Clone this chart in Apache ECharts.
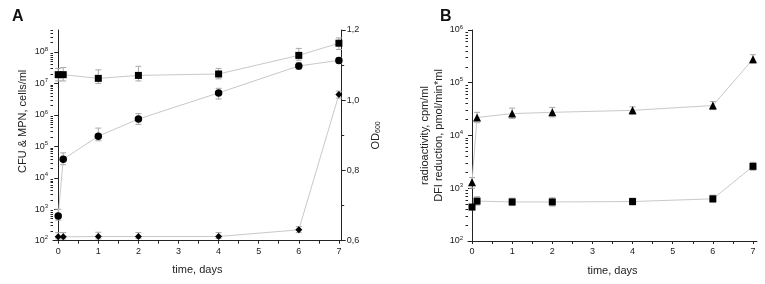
<!DOCTYPE html>
<html><head><meta charset="utf-8">
<script src="https://cdn.jsdelivr.net/npm/echarts@6/dist/echarts.min.js"></script>
<style>html,body{margin:0;padding:0;background:#fff}#c{width:765px;height:284px}</style>
</head><body><div id="c"></div>
<script>
// ---- Data ----
const daysA = [0, 0.125, 1, 2, 4, 6, 7];
const cfu = [1.9e7, 1.9e7, 1.45e7, 1.8e7, 2.0e7, 7.8e7, 1.9e8];
const cfuLo = [1.2e7, 1.2e7, 1.0e7, 1.2e7, 1.4e7, 5.5e7, 1.2e8];
const cfuHi = [3.0e7, 3.2e7, 2.7e7, 3.5e7, 3.0e7, 1.3e8, 2.8e8];
const mpn = [6.1e2, 3.9e4, 2.1e5, 7.4e5, 5.0e6, 3.6e7, 5.4e7];
const mpnLo = [4.5e2, 2.6e4, 1.5e5, 5.0e5, 3.2e6, 2.8e7, 4.4e7];
const mpnHi = [1.0e3, 6.2e4, 3.8e5, 1.1e6, 7.0e6, 4.6e7, 6.6e7];
const od = [0.611, 0.611, 0.612, 0.612, 0.612, 0.631, 1.016];
const odLo = [0.605, 0.605, 0.605, 0.606, 0.606, 0.623, 1.006];
const odHi = [0.623, 0.623, 0.624, 0.623, 0.623, 0.640, 1.026];

const daysB = [0, 0.125, 1, 2, 4, 6, 7];
const radio = [1.3e3, 2.2e4, 2.6e4, 2.75e4, 3.0e4, 3.7e4, 2.8e5];
const radioLo = [1.0e3, 1.75e4, 2.1e4, 2.25e4, 2.5e4, 3.1e4, 2.35e5];
const radioHi = [1.6e3, 2.75e4, 3.3e4, 3.4e4, 3.5e4, 4.4e4, 3.4e5];
const dfi = [4.4e2, 5.7e2, 5.5e2, 5.5e2, 5.6e2, 6.3e2, 2.6e3];
const dfiLo = [3.9e2, 4.8e2, 4.7e2, 4.6e2, 4.8e2, 5.4e2, 2.2e3];
const dfiHi = [4.9e2, 6.9e2, 6.5e2, 6.6e2, 6.5e2, 7.4e2, 3.1e3];

const xTicks = [0, 1, 2, 3, 4, 5, 6, 7];
const xAllTicks = [0, 0.5, 1, 1.5, 2, 2.5, 3, 3.5, 4, 4.5, 5, 5.5, 6, 6.5, 7];
const logTicksA = [1e2, 1e3, 1e4, 1e5, 1e6, 1e7, 1e8];
const logTicksB = [1e2, 1e3, 1e4, 1e5, 1e6];

// ---- helpers ----
function logMinor(ticks, maxV) {
  const out = [];
  ticks.forEach(t => { for (let k = 2; k <= 9; k++) { const v = t * k; if (v <= maxV) out.push(v); } });
  return out;
}
const zip = (xs, ys) => xs.map((x, i) => [x, ys[i]]);
const zip3 = (xs, a, b) => xs.map((x, i) => [x, a[i], b[i]]);

const axisColor = '#222';
const lineColor = '#c9c9c9';
const errColor = '#a8a8a8';
const font = 'Liberation Sans, Arial, sans-serif';

function errRender(params, api) {
  const x = api.value(0), lo = api.value(1), hi = api.value(2);
  const p1 = api.coord([x, lo]), p2 = api.coord([x, hi]);
  const w = 3;
  const st = { stroke: errColor, lineWidth: 1 };
  return { type: 'group', children: [
    { type: 'line', shape: { x1: p1[0], y1: p1[1], x2: p2[0], y2: p2[1] }, style: st },
    { type: 'line', shape: { x1: p1[0] - w, y1: p1[1], x2: p1[0] + w, y2: p1[1] }, style: st },
    { type: 'line', shape: { x1: p2[0] - w, y1: p2[1], x2: p2[0] + w, y2: p2[1] }, style: st }
  ]};
}

const supRich = {
  b: { fontSize: 9, color: axisColor, fontFamily: font },
  s: { fontSize: 6, color: axisColor, fontFamily: font, padding: [0, 0, 6, 0] }
};
function logFmt(v) { const e = Math.round(Math.log10(v)); return '{b|10}{s|' + e + '}'; }

function xAxis(grid, min, max) {
  return {
    type: 'value', gridIndex: grid, min: min, max: max, position: 'bottom',
    name: 'time, days', nameLocation: 'middle', nameGap: 24,
    nameTextStyle: { fontSize: 11, color: axisColor, fontFamily: font },
    axisLine: { lineStyle: { color: axisColor, width: 1 } },
    axisTick: { customValues: xAllTicks, length: 3, lineStyle: { color: axisColor } },
    axisLabel: { customValues: xTicks, fontSize: 9, color: axisColor, fontFamily: font, margin: 6 },
    splitLine: { show: false }
  };
}

const option = {
  animation: false,
  backgroundColor: '#fff',
  title: [
    { text: 'A', left: 7, top: 4, textStyle: { fontSize: 16, fontWeight: 'bold', color: '#111', fontFamily: font } },
    { text: 'B', left: 435, top: 4, textStyle: { fontSize: 16, fontWeight: 'bold', color: '#111', fontFamily: font } }
  ],
  grid: [
    { left: 53, top: 30, width: 288.7, height: 210.7 },
    { left: 468, top: 30, width: 289, height: 211 }
  ],
  xAxis: [xAxis(0, -0.13, 7.07), xAxis(1, -0.1, 7.1)],
  yAxis: [
    { // 0: A log left
      type: 'log', logBase: 10, gridIndex: 0, min: 1e2, max: 5e8, position: 'left',
      name: 'CFU & MPN, cells/ml', nameLocation: 'middle', nameGap: 25, nameRotate: 90,
      nameTextStyle: { fontSize: 11, color: axisColor, fontFamily: font, padding: [0, 0, 0, 28] },
      axisLine: { show: true, lineStyle: { color: axisColor, width: 1 } },
      axisTick: { customValues: logTicksA, length: 4, lineStyle: { color: axisColor } },
      axisLabel: { customValues: logTicksA, formatter: logFmt, rich: supRich, margin: 5 },
      splitLine: { show: false }
    },
    { // 1: A log minor ticks
      type: 'log', logBase: 10, gridIndex: 0, min: 1e2, max: 5e8, position: 'left', offset: 0,
      axisLine: { show: false },
      axisTick: { customValues: logMinor(logTicksA, 5e8), length: 2.5, lineStyle: { color: axisColor } },
      axisLabel: { show: false }, splitLine: { show: false }
    },
    { // 2: A OD right
      type: 'value', gridIndex: 0, min: 0.6, max: 1.2, interval: 0.2, position: 'right',
      name: '{n|OD}{sub|600}', nameLocation: 'middle', nameGap: 28, nameRotate: 90,
      nameTextStyle: { rich: {
        n: { fontSize: 11, color: axisColor, fontFamily: font },
        sub: { fontSize: 7, color: axisColor, fontFamily: font, padding: [5, 0, 0, 0] } } },
      axisLine: { show: true, lineStyle: { color: axisColor, width: 1 } },
      axisTick: { length: 4, lineStyle: { color: axisColor } },
      minorTick: { show: true, splitNumber: 2, length: 2.5, lineStyle: { color: axisColor } },
      axisLabel: { fontSize: 9, color: axisColor, fontFamily: font, margin: 5,
        formatter: v => v.toFixed(1).replace('.', ',') },
      splitLine: { show: false }, minorSplitLine: { show: false }
    },
    { // 3: B log left
      type: 'log', logBase: 10, gridIndex: 1, min: 1e2, max: 1e6, position: 'left',
      name: 'radioactivity, cpm/ml\nDFI reduction, pmol/min*ml', nameLocation: 'middle', nameGap: 22, nameRotate: 90,
      nameTextStyle: { fontSize: 11, lineHeight: 14, color: axisColor, fontFamily: font, align: 'center' },
      axisLine: { show: true, lineStyle: { color: axisColor, width: 1 } },
      axisTick: { customValues: logTicksB, length: 4, lineStyle: { color: axisColor } },
      axisLabel: { customValues: logTicksB, formatter: logFmt, rich: supRich, margin: 5 },
      splitLine: { show: false }
    },
    { // 4: B log minor
      type: 'log', logBase: 10, gridIndex: 1, min: 1e2, max: 1e6, position: 'left', offset: 0,
      axisLine: { show: false },
      axisTick: { customValues: logMinor(logTicksB, 1e6), length: 2.5, lineStyle: { color: axisColor } },
      axisLabel: { show: false }, splitLine: { show: false }
    }
  ],
  series: [
    // error bars
    { type: 'custom', xAxisIndex: 0, yAxisIndex: 0, data: zip3(daysA, cfuLo, cfuHi), renderItem: errRender, z: 1, clip: false },
    { type: 'custom', xAxisIndex: 0, yAxisIndex: 0, data: zip3(daysA, mpnLo, mpnHi), renderItem: errRender, z: 1, clip: false },
    { type: 'custom', xAxisIndex: 0, yAxisIndex: 2, data: zip3(daysA, odLo, odHi), renderItem: errRender, z: 1, clip: false },
    { type: 'custom', xAxisIndex: 1, yAxisIndex: 3, data: zip3(daysB, radioLo, radioHi), renderItem: errRender, z: 1, clip: false },
    { type: 'custom', xAxisIndex: 1, yAxisIndex: 3, data: zip3(daysB, dfiLo, dfiHi), renderItem: errRender, z: 1, clip: false },
    // lines + markers
    { name: 'CFU', type: 'line', xAxisIndex: 0, yAxisIndex: 0, data: zip(daysA, cfu), symbol: 'rect', symbolSize: 7,
      lineStyle: { color: lineColor, width: 1 }, itemStyle: { color: '#000' }, z: 3 },
    { name: 'MPN', type: 'line', xAxisIndex: 0, yAxisIndex: 0, data: zip(daysA, mpn), symbol: 'circle', symbolSize: 7.5,
      lineStyle: { color: lineColor, width: 1 }, itemStyle: { color: '#000' }, z: 3 },
    { name: 'OD', type: 'line', xAxisIndex: 0, yAxisIndex: 2, data: zip(daysA, od), symbol: 'diamond', symbolSize: 7,
      lineStyle: { color: lineColor, width: 1 }, itemStyle: { color: '#000' }, z: 3 },
    { name: 'radio', type: 'line', xAxisIndex: 1, yAxisIndex: 3, data: zip(daysB, radio), symbol: 'triangle', symbolSize: 8,
      lineStyle: { color: lineColor, width: 1 }, itemStyle: { color: '#000' }, z: 3 },
    { name: 'DFI', type: 'line', xAxisIndex: 1, yAxisIndex: 3, data: zip(daysB, dfi), symbol: 'rect', symbolSize: 7,
      lineStyle: { color: lineColor, width: 1 }, itemStyle: { color: '#000' }, z: 3 }
  ]
};
const chart = echarts.init(document.getElementById('c'), null, { renderer: 'canvas' });
chart.setOption(option);
</script></body></html>
